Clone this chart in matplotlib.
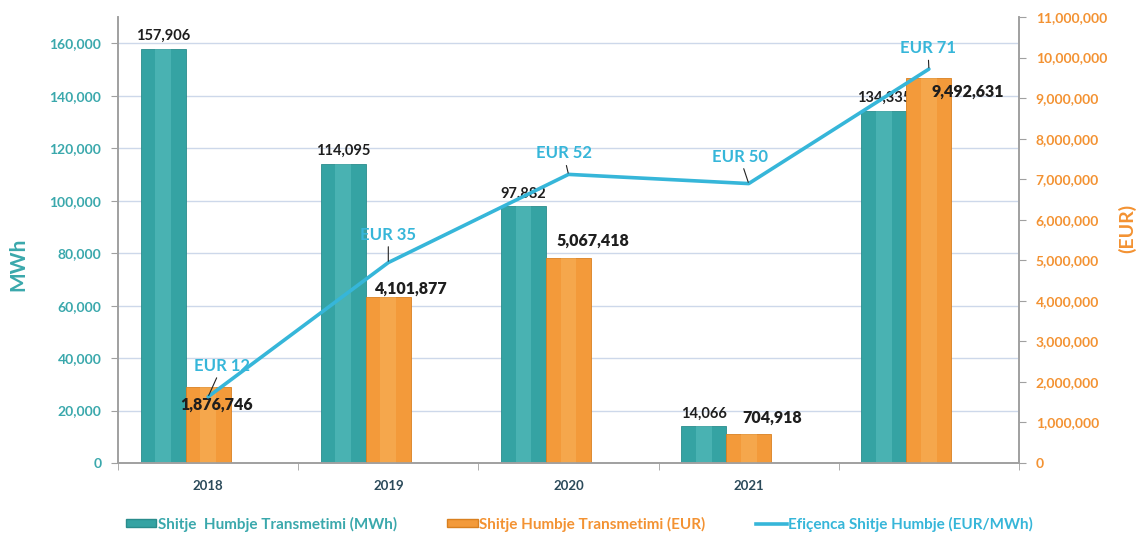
import numpy as np
import matplotlib
matplotlib.use("Agg")
import matplotlib.pyplot as plt
from matplotlib.patches import Patch
from matplotlib.lines import Line2D
from matplotlib.ticker import FuncFormatter, MultipleLocator

plt.rcParams['font.family'] = ['Lato', 'DejaVu Sans']

categories = ['2018', '2019', '2020', '2021', '']
mwh = [157906, 114095, 97882, 14066, 134335]
eur = [1876746, 4101877, 5067418, 704918, 9492631]
eff = [11.88, 35.95, 51.77, 50.12, 70.66]
eff_labels = ['EUR 12', 'EUR 35', 'EUR 52', 'EUR 50', 'EUR 71']

TEAL = '#35a3a3'
TEAL_HI = '#6fd0d0'
ORANGE = '#f39a3a'
ORANGE_HI = '#f9c070'
CYAN = '#36b6d9'
TEAL_TXT = '#3aa8ac'
ORANGE_TXT = '#f39232'

fig = plt.figure(figsize=(11.38, 5.33), dpi=100)
ax = fig.add_axes([118/1138, 1-463/533, (1019-118)/1138, (463-17)/533])
ax2 = ax.twinx()
ax3 = ax.twinx()

x = np.arange(len(categories))
w = 0.25

# bars
ax.bar(x - w, mwh, width=w, color=TEAL, edgecolor='#2a8c8c', linewidth=0.6, zorder=2)
ax.bar(x - w, mwh, width=w*0.35, color=TEAL_HI, alpha=0.35, linewidth=0, zorder=2.1)
ax2.bar(x, eur, width=w, color=ORANGE, edgecolor='#d98020', linewidth=0.6, zorder=2)
ax2.bar(x, eur, width=w*0.35, color=ORANGE_HI, alpha=0.35, linewidth=0, zorder=2.1)

ax.set_xlim(-0.5, 4.5)
ax2.set_ylim(0, 11000000)
ax3.set_ylim(0, 80)

# line
ax3.plot(x, eff, color=CYAN, lw=2.6, zorder=5, solid_capstyle='round')
ax3.axis('off')

# gridlines
ax.yaxis.set_major_locator(MultipleLocator(20000))
ax.grid(axis='y', color='#cdd8ea', lw=1.0, zorder=0)
ax.set_axisbelow(True)
ax.set_ylim(0, 170000)

fmt = FuncFormatter(lambda v, p: f'{int(v):,}')
ax.yaxis.set_major_formatter(fmt)
ax2.yaxis.set_major_locator(MultipleLocator(1000000))
ax2.yaxis.set_major_formatter(fmt)

for a in (ax, ax2):
    a.spines['top'].set_visible(False)
    for s in ['left', 'right', 'bottom']:
        a.spines[s].set_color('#a0a0a0')
        a.spines[s].set_linewidth(1.2)

ax.tick_params(axis='y', colors='#a0a0a0', labelcolor=TEAL_TXT, labelsize=10, length=5, pad=7)
ax2.tick_params(axis='y', colors='#a0a0a0', labelcolor=ORANGE_TXT, labelsize=10, length=5, pad=7)
for lab in ax.get_yticklabels():
    lab.set_fontweight('bold')
for lab in ax2.get_yticklabels():
    lab.set_fontweight('bold')

ax.set_xticks(x)
ax.set_xticklabels(categories, fontweight='bold', color='#2b4a5a', fontsize=9.5)
ax.set_xticks(np.arange(-0.5, 5, 1), minor=True)
ax.tick_params(axis='x', which='major', length=0, pad=12)
ax.tick_params(axis='x', which='minor', length=5, color='#a0a0a0')

ax.set_ylabel('MWh', color=TEAL_TXT, fontsize=15, fontweight='bold')
ax.yaxis.set_label_coords(-0.100, 0.445)
ax2.set_ylabel('(EUR)', color=ORANGE_TXT, fontsize=14, fontweight='bold')
ax2.yaxis.set_label_coords(1.110, 0.525)

# teal labels
for xi, v in zip(x, mwh):
    ax.annotate(f'{v:,}', (xi - w, v), xytext=(0, 4), textcoords='offset points',
                ha='center', va='bottom', fontsize=10.5, fontweight='bold', color='#1e1e1e', zorder=6)

# orange labels (offsets in px)
o_off = [(8, -18), (23, 8), (24, 17), (23, 17), (39, -14)]
for xi, v, (dx, dy) in zip(x, eur, o_off):
    ax2.annotate(f'{v:,}', (xi, v), xytext=(dx*0.72, dy*0.72), textcoords='offset points',
                 ha='center', va='center', fontsize=11.5, fontweight='heavy', color='#1e1e1e', zorder=6)

# line labels
l_off = [(14, 31), (0, 28), (-5, 21), (-9, 27), (-1, 21)]
for xi, v, t, (dx, dy) in zip(x, eff, eff_labels, l_off):
    ax3.annotate(t, (xi, v), xytext=(dx*0.72, dy*0.72), textcoords='offset points',
                 ha='center', va='center', fontsize=12, fontweight='bold', color=CYAN, zorder=7,
                 arrowprops=dict(arrowstyle='-', color='#222222', lw=0.8, shrinkA=1, shrinkB=1))

# legend
handles = [Patch(facecolor=TEAL, edgecolor='#2a8c8c'),
           Patch(facecolor=ORANGE, edgecolor='#d98020'),
           Line2D([0], [0], color=CYAN, lw=2.6)]
labels = ['Shitje  Humbje Transmetimi (MWh)', 'Shitje Humbje Transmetimi (EUR)',
          'Efiçenca Shitje Humbje (EUR/MWh)']
fig.legend(handles, labels, loc='center left', bbox_to_anchor=(112/1138, 1-524/533), ncol=3,
           frameon=False, handlelength=2.0, handleheight=0.5, handletextpad=0.1,
           columnspacing=3.3, prop=dict(weight='bold', size=11),
           labelcolor=[TEAL_TXT, ORANGE_TXT, CYAN])

fig.savefig('out.png', dpi=100)
